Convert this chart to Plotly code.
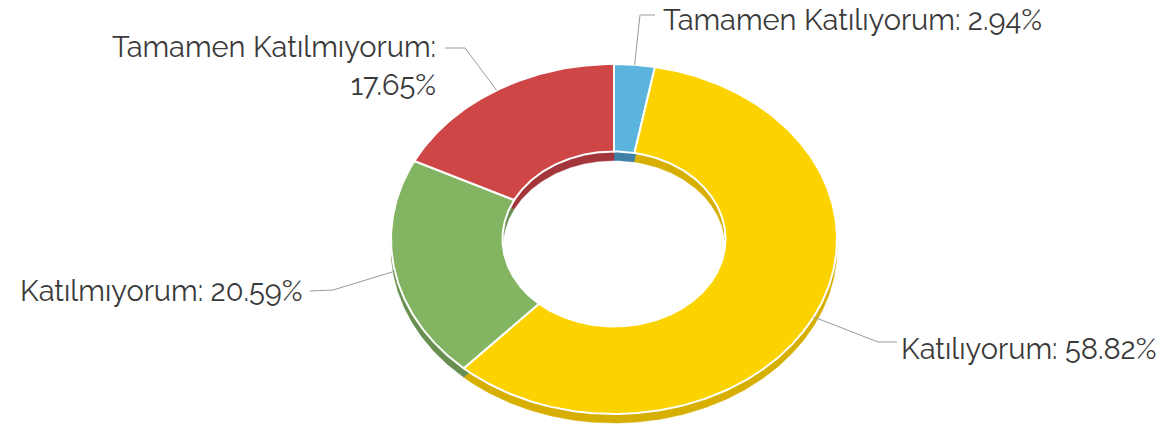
import numpy as np
import plotly.graph_objects as go

# ---- data ----
labels = ["Tamamen Katılıyorum", "Katılıyorum", "Katılmıyorum", "Tamamen Katılmıyorum"]
percents = [2.94, 58.82, 20.59, 17.65]
face_colors = ["#5BB4DE", "#FCD300", "#82B462", "#CF4647"]
wall_colors = ["#3F82A6", "#D6AF00", "#678F50", "#A3363A"]

# ---- geometry (page pixels) ----
W, H = 1167, 432
CX, CY = 614, 239
RX, RY = 223, 175
HOLE = 0.5
DEPTH = 9 / RY


def dx(px):
    return (px - CX) / RX


def dy(py):
    return (CY - py) / RY


frac = np.array(percents) / sum(percents)
cum = np.concatenate([[0.0], np.cumsum(frac)])


def ring(a0, a1, shift=0.0):
    n = max(int((a1 - a0) * 600), 10)
    t = np.linspace(a0, a1, n) * 2 * np.pi
    xo, yo = np.sin(t), np.cos(t) + shift
    xi, yi = HOLE * np.sin(t[::-1]), HOLE * np.cos(t[::-1]) + shift
    x = np.concatenate([xo, xi, xo[:1]])
    y = np.concatenate([yo, yi, yo[:1]])
    return x, y


fig = go.Figure()

# walls (extruded bottom)
for i in range(len(percents)):
    x, y = ring(cum[i], cum[i + 1], -DEPTH)
    fig.add_trace(go.Scatter(x=x, y=y, mode="lines", fill="toself",
                             fillcolor=wall_colors[i],
                             line=dict(color=wall_colors[i], width=0.5),
                             hoverinfo="skip"))

# top faces
for i in range(len(percents)):
    x, y = ring(cum[i], cum[i + 1])
    fig.add_trace(go.Scatter(x=x, y=y, mode="lines", fill="toself",
                             fillcolor=face_colors[i],
                             line=dict(color="white", width=2),
                             hoverinfo="skip", name=labels[i]))

# label layout (page pixels): elbow points and text anchor
label_cfg = [
    dict(pts=[(640, 15), (655, 15)], tx=662, ty=20, anchor="left", br=False),
    dict(pts=[(878, 342), (897, 342)], tx=900, ty=349, anchor="left", br=False),
    dict(pts=[(333, 290), (310, 291)], tx=303, ty=291, anchor="right", br=False),
    dict(pts=[(465, 48), (445, 48)], tx=437, ty=66, anchor="right", br=True),
]

font = dict(family="Raleway, Lato, sans-serif", size=29, color="#3a3a3a")

for i, cfg in enumerate(label_cfg):
    mid = (cum[i] + cum[i + 1]) / 2 * 2 * np.pi
    ex, ey = np.sin(mid), np.cos(mid)
    xs = [ex] + [dx(p[0]) for p in cfg["pts"]]
    ys = [ey] + [dy(p[1]) for p in cfg["pts"]]
    fig.add_trace(go.Scatter(x=xs, y=ys, mode="lines",
                             line=dict(color="#9a9a9a", width=1),
                             hoverinfo="skip"))
    sep = "<br>" if cfg["br"] else " "
    text = f"{labels[i]}:{sep}{percents[i]:.2f}%"
    fig.add_annotation(x=dx(cfg["tx"]), y=dy(cfg["ty"]), text=text,
                       showarrow=False, xanchor=cfg["anchor"], yanchor="middle",
                       align=cfg["anchor"], font=font, borderpad=0)

fig.update_layout(
    width=W, height=H,
    margin=dict(l=0, r=0, t=0, b=0),
    paper_bgcolor="white", plot_bgcolor="white",
    showlegend=False,
    xaxis=dict(range=[dx(0), dx(W)], visible=False, fixedrange=True),
    yaxis=dict(range=[dy(H), dy(0)], visible=False, fixedrange=True),
)

fig.write_html("out.html",
               config={"displayModeBar": False, "staticPlot": True},
               post_script="document.body.style.margin='0';document.body.style.overflow='hidden';")
